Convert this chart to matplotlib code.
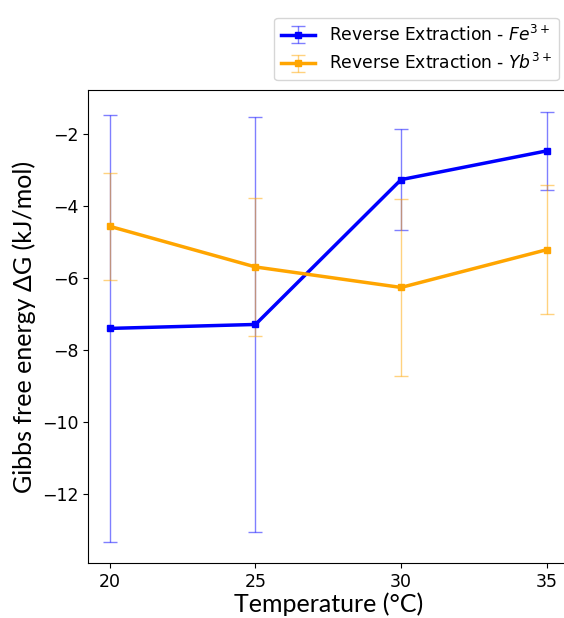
import matplotlib.pyplot as plt

temps = [20, 25, 30, 35]

fe_dg = [-7.40, -7.29, -3.26, -2.46]
fe_err = [5.93, 5.77, 1.40, 1.09]

yb_dg = [-4.56, -5.69, -6.26, -5.21]
yb_err = [1.48, 1.92, 2.47, 1.79]

fig = plt.figure(figsize=(5.64, 6.18), dpi=100)
ax = fig.add_axes([0.156, 0.089, 0.852, 0.765])

fe = ax.errorbar(temps, fe_dg, yerr=fe_err, color="blue", marker="s", markersize=5,
                 lw=2.5, capsize=5, elinewidth=1, ecolor=(0, 0, 1, 0.5),
                 label="Reverse Extraction - $Fe^{3+}$")
yb = ax.errorbar(temps, yb_dg, yerr=yb_err, color="orange", marker="s", markersize=5,
                 lw=2.5, capsize=5, elinewidth=1, ecolor=(1, 0.65, 0, 0.5),
                 label="Reverse Extraction - $Yb^{3+}$")

ax.set_xticks(temps)
ax.tick_params(labelsize=12.5)
ax.set_xlabel("Temperature (°C)", family="Lato", fontsize=18, labelpad=1)
ax.set_ylabel("Gibbs free energy ΔG (kJ/mol)", family="Lato", fontsize=18)

leg = ax.legend(loc="upper right", bbox_to_anchor=(1.006, 0.985),
                bbox_transform=fig.transFigure, fontsize=12.3, labelspacing=0.5)
for line in leg.get_lines():
    line.set_linewidth(3.5)

fig.savefig("out.png", dpi=100)
